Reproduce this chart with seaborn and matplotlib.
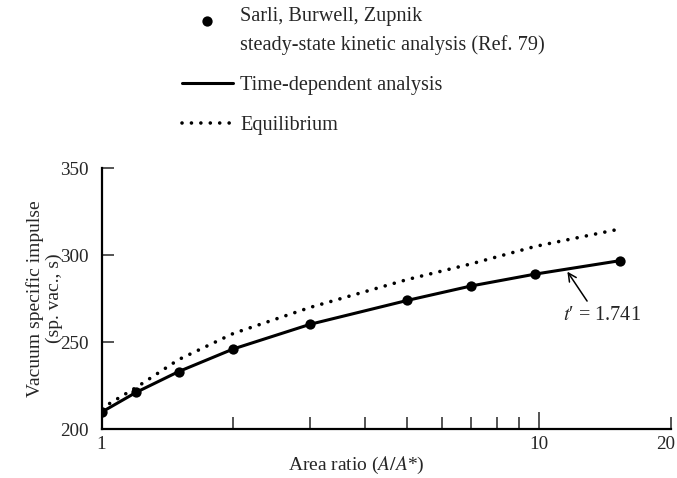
import numpy as np
import pandas as pd
import matplotlib
matplotlib.use('Agg')
import matplotlib.pyplot as plt
import seaborn as sns
from matplotlib.ticker import FixedLocator, NullFormatter, FixedFormatter
from matplotlib.transforms import ScaledTranslation

# values
area_ratio = [1.0, 1.2, 1.5, 2.0, 3.0, 5.0, 7.0, 9.8, 15.3]
sarli_isp = [209.8, 221.2, 233.1, 246.1, 260.3, 274.0, 282.3, 289.1, 296.8]
time_dep_isp = [209.8, 221.2, 233.1, 246.1, 260.3, 274.0, 282.3, 289.1, 296.8]
equilibrium_isp = [212.0, 224.0, 240.0, 255.0, 270.0, 286.0, 295.0, 305.0, 315.0]

x_major = [1, 10, 20]
x_minor = [2, 3, 4, 5, 6, 7, 8, 9]
y_ticks = [200, 250, 300, 350]

df = pd.DataFrame({'ratio': area_ratio, 'sarli': sarli_isp,
                   'timedep': time_dep_isp, 'equil': equilibrium_isp})

sns.set_style('white')
plt.rcParams['font.family'] = ['Liberation Serif', 'DejaVu Serif']
plt.rcParams['mathtext.fontset'] = 'stix'
fs = 14.6
tick_fs = 13.8
plt.rcParams['font.size'] = fs

fig = plt.figure(figsize=(6.77, 4.78), dpi=100)
ax = fig.add_axes([0.150, 0.102, 0.841, 0.5465])

sns.scatterplot(data=df, x='ratio', y='sarli', ax=ax, color='black', s=55,
                edgecolor='black', linewidth=0, zorder=3,
                label='Sarli, Burwell, Zupnik\nsteady-state kinetic analysis (Ref. 79)')
sns.lineplot(data=df, x='ratio', y='timedep', ax=ax, color='black', lw=2.2,
             label='Time-dependent analysis')
sns.lineplot(data=df, x='ratio', y='equil', ax=ax, color='black', lw=2.6,
             linestyle=(0, (0.01, 2.6)), dash_capstyle='round',
             label='Equilibrium')

ax.set_xscale('log')
ax.set_xlim(1, 20)
ax.set_ylim(200, 350)
ax.xaxis.set_major_locator(FixedLocator(x_major))
ax.xaxis.set_major_formatter(FixedFormatter([str(v) for v in x_major]))
ax.xaxis.set_minor_locator(FixedLocator(x_minor))
ax.xaxis.set_minor_formatter(NullFormatter())
ax.set_yticks(y_ticks)

ax.tick_params(axis='x', which='major', direction='in', length=12, width=1.1,
               pad=5, labelsize=tick_fs, bottom=True)
ax.tick_params(axis='x', which='minor', direction='in', length=8.6, width=1.1,
               bottom=True)
ax.tick_params(axis='y', direction='in', length=8.6, width=1.1, pad=9,
               labelsize=tick_fs, left=True)
# the 20 tick is short like the minor ones, and its label sits at the edge
t20 = ax.xaxis.get_major_ticks()[2]
t20.tick1line.set_markersize(8.6)
t20.label1.set_horizontalalignment('right')
t20.label1.set_transform(t20.label1.get_transform()
                         + ScaledTranslation(4 / 100, 0, fig.dpi_scale_trans))

sns.despine(ax=ax)
for sp in ['left', 'bottom']:
    ax.spines[sp].set_linewidth(1.6)
    ax.spines[sp].set_color('black')

ax.set_xlabel('Area ratio ($A/A$*)', fontsize=14)
ax.xaxis.set_label_coords(0.447, -0.1)
ax.set_ylabel('Vacuum specific impulse\n(sp. vac., s)', fontsize=14,
              linespacing=1.15)
ax.yaxis.set_label_coords(-0.068, 0.5)

ax.annotate("$t$\u2032 = 1.741", xy=(11.6, 290.5), xytext=(13.9, 265.6),
            ha='center', va='center', fontsize=fs,
            arrowprops=dict(arrowstyle='->', color='black', lw=1.1,
                            relpos=(0.35, 1.0), shrinkA=1, shrinkB=0))

leg = ax.legend(loc='upper left', bbox_to_anchor=(182 / 677, 1 - 7 / 478),
                bbox_transform=fig.transFigure, frameon=False, borderpad=0,
                borderaxespad=0, handlelength=2.5, handletextpad=0.38,
                labelspacing=1.02, fontsize=fs, scatteryoffsets=[1.2])
for t in leg.get_texts():
    t.set_linespacing(1.62)

fig.savefig('out.png', dpi=100)
